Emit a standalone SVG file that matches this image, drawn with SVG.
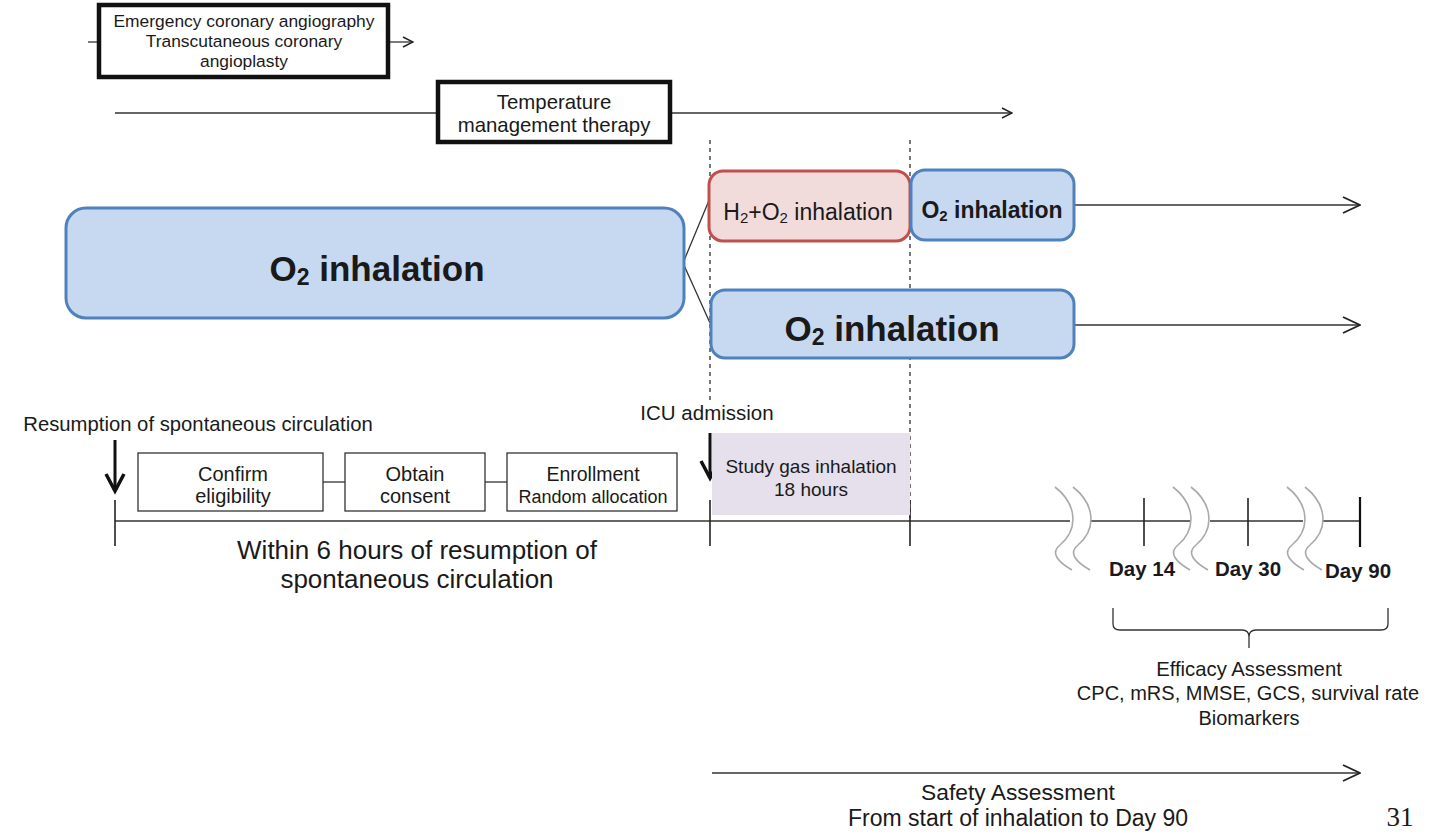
<svg xmlns="http://www.w3.org/2000/svg" width="1445" height="834" viewBox="0 0 1445 834">
<defs>
<marker id="open" viewBox="0 0 12 12" refX="11" refY="6" markerWidth="12" markerHeight="12" markerUnits="userSpaceOnUse" orient="auto">
<path d="M1,1 L11,6 L1,11" fill="none" stroke="#222" stroke-width="1.4"/>
</marker>
<marker id="open2" viewBox="0 0 20 20" refX="19" refY="10" markerWidth="20" markerHeight="20" markerUnits="userSpaceOnUse" orient="auto">
<path d="M2,2 L19,10 L2,18" fill="none" stroke="#222" stroke-width="1.8"/>
</marker>
</defs>
<style>
text{font-family:"Liberation Sans",Arial,sans-serif;fill:#1a1a1a;text-anchor:middle}
.b{font-weight:bold}
.thick{fill:#fff;stroke:#111;stroke-width:4.5}
.thin{fill:#fff;stroke:#333;stroke-width:1.3}
.blue{fill:#c6d9f1;stroke:#4f81bd;stroke-width:3}
.red{fill:#f2dcdb;stroke:#c0504d;stroke-width:3}
.ln{stroke:#333;stroke-width:1.3;fill:none}
.dash{stroke:#555;stroke-width:1.6;stroke-dasharray:4 4;fill:none}
.tick{stroke:#222;stroke-width:1.6}
.wave{stroke:#aaa;stroke-width:1.6;fill:none}
</style>
<rect width="1445" height="834" fill="#fff"/>

<g id="connectors">
<line class="ln" x1="88" y1="42" x2="99" y2="42"/>
<line class="ln" x1="388" y1="42" x2="413" y2="42" marker-end="url(#open)"/>
<line class="ln" x1="115" y1="113" x2="438" y2="113"/>
<line class="ln" x1="670" y1="113" x2="1012" y2="113" marker-end="url(#open)"/>
<line class="dash" x1="710" y1="140" x2="710" y2="400"/>
<line class="dash" x1="910" y1="140" x2="910" y2="518"/>
<polyline class="ln" points="710,198 683,263 710,323"/>
<line class="ln" x1="1074" y1="205" x2="1360" y2="205" marker-end="url(#open2)"/>
<line class="ln" x1="1074" y1="325" x2="1360" y2="325" marker-end="url(#open2)"/>
<line class="ln" x1="323" y1="482" x2="345" y2="482"/>
<line class="ln" x1="485" y1="482" x2="507" y2="482"/>
<line x1="115" y1="440" x2="115" y2="490" stroke="#111" stroke-width="3"/>
<polyline points="106,474 115,491 124,474" fill="none" stroke="#111" stroke-width="3.5"/>
<line x1="710" y1="433" x2="710" y2="477" stroke="#111" stroke-width="3"/>
<polyline points="701,461 710,478 719,461" fill="none" stroke="#111" stroke-width="3.5"/>
<line class="ln" x1="115" y1="521" x2="1070" y2="521"/>
<line class="ln" x1="1091" y1="521" x2="1190" y2="521"/>
<line class="ln" x1="1210" y1="521" x2="1303" y2="521"/>
<line class="ln" x1="1323" y1="521" x2="1360" y2="521"/>
<line class="tick" x1="115" y1="500" x2="115" y2="546"/>
<line class="tick" x1="710" y1="500" x2="710" y2="546"/>
<line class="tick" x1="910" y1="500" x2="910" y2="546"/>
<line class="tick" x1="1144" y1="498" x2="1144" y2="546"/>
<line class="tick" x1="1248" y1="498" x2="1248" y2="546"/>
<line x1="1360" y1="497" x2="1360" y2="547" stroke="#111" stroke-width="2.2"/>
<path class="wave" d="M1055,487 C1078,505 1078,530 1060,545 C1050,553 1058,562 1072,570"/>
<path class="wave" d="M1073,487 C1096,505 1096,530 1078,545 C1068,553 1076,562 1090,570"/>
<path class="wave" d="M1173,487 C1196,505 1196,530 1178,545 C1168,553 1176,562 1190,570"/>
<path class="wave" d="M1191,487 C1214,505 1214,530 1196,545 C1186,553 1194,562 1208,570"/>
<path class="wave" d="M1287,487 C1310,505 1310,530 1292,545 C1282,553 1290,562 1304,570"/>
<path class="wave" d="M1305,487 C1328,505 1328,530 1310,545 C1300,553 1308,562 1322,570"/>
<path class="ln" stroke-width="1.6" d="M1113,608 L1113,624 Q1113,630 1120,630 L1242,630 Q1249,630 1249,637 L1249,648 M1249,637 Q1249,630 1256,630 L1381,630 Q1388,630 1388,624 L1388,608"/>
<line class="ln" stroke-width="1.6" x1="712" y1="773" x2="1360" y2="773" marker-end="url(#open2)"/>
</g>

<g id="n-emergency">
<rect class="thick" x="99" y="5" width="289" height="72"/>
<text x="244" y="27" font-size="17.4">Emergency coronary angiography</text>
<text x="244" y="47" font-size="17.4">Transcutaneous coronary</text>
<text x="244" y="67" font-size="17.4">angioplasty</text>
</g>

<g id="n-temperature">
<rect class="thick" x="438" y="82" width="232" height="60"/>
<text x="554" y="109" font-size="20.4">Temperature</text>
<text x="554" y="132" font-size="20.4">management therapy</text>
</g>

<g id="n-o2-main">
<rect class="blue" x="66" y="208" width="618" height="110" rx="20"/>
<text class="b" x="377" y="281" font-size="35">O<tspan font-size="23" dy="4">2</tspan><tspan dy="-4"> inhalation</tspan></text>
</g>

<g id="n-h2o2">
<rect class="red" x="709" y="171" width="201" height="70" rx="14"/>
<text x="808" y="220" font-size="23">H<tspan font-size="15" dy="3">2</tspan><tspan dy="-3">+O</tspan><tspan font-size="15" dy="3">2</tspan><tspan dy="-3"> inhalation</tspan></text>
</g>

<g id="n-o2-small">
<rect class="blue" x="911" y="170" width="163" height="70" rx="14"/>
<text class="b" x="992" y="218" font-size="23">O<tspan font-size="15" dy="3">2</tspan><tspan dy="-3"> inhalation</tspan></text>
</g>

<g id="n-o2-control">
<rect class="blue" x="711" y="290" width="363" height="68" rx="14"/>
<text class="b" x="892" y="341" font-size="35">O<tspan font-size="23" dy="4">2</tspan><tspan dy="-4"> inhalation</tspan></text>
</g>

<g id="n-labels">
<text x="198" y="431" font-size="20.3">Resumption of spontaneous circulation</text>
<text x="707" y="420" font-size="20.5">ICU admission</text>
</g>

<g id="n-confirm">
<rect class="thin" x="138" y="453" width="185" height="58"/>
<text x="233" y="481" font-size="20">Confirm</text>
<text x="233" y="503" font-size="20">eligibility</text>
</g>
<g id="n-consent">
<rect class="thin" x="345" y="453" width="140" height="58"/>
<text x="415" y="481" font-size="20">Obtain</text>
<text x="415" y="503" font-size="20">consent</text>
</g>
<g id="n-enroll">
<rect class="thin" x="507" y="453" width="170" height="58"/>
<text x="593" y="481" font-size="19.5">Enrollment</text>
<text x="593" y="503" font-size="18">Random allocation</text>
</g>

<g id="n-studygas">
<rect x="712" y="433" width="198" height="82" fill="#e5e0ec"/>
<text x="811" y="473" font-size="19">Study gas inhalation</text>
<text x="811" y="496" font-size="19">18 hours</text>
</g>

<g id="n-within">
<text x="417" y="559" font-size="26">Within 6 hours of resumption of</text>
<text x="417" y="588" font-size="26">spontaneous circulation</text>
</g>

<g id="n-days">
<text class="b" x="1142" y="576" font-size="20.5">Day 14</text>
<text class="b" x="1248" y="576" font-size="20.5">Day 30</text>
<text class="b" x="1358" y="578" font-size="20.5">Day 90</text>
</g>

<g id="n-efficacy">
<text x="1249" y="676" font-size="20.3">Efficacy Assessment</text>
<text x="1248" y="700" font-size="20">CPC, mRS, MMSE, GCS, survival rate</text>
<text x="1249" y="725" font-size="20">Biomarkers</text>
</g>

<g id="n-safety">
<text x="1018" y="800" font-size="22.8">Safety Assessment</text>
<text x="1018" y="826" font-size="23">From start of inhalation to Day 90</text>
</g>

<text x="1400" y="826" font-size="27" style="font-family:'Liberation Serif',serif">31</text>
</svg>
